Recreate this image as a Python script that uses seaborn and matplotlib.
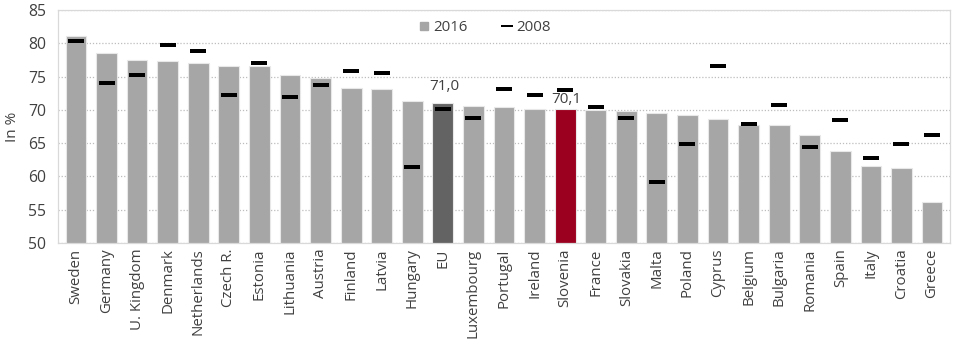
import matplotlib
matplotlib.use("Agg")
import matplotlib.pyplot as plt
import seaborn as sns
import pandas as pd
from matplotlib.lines import Line2D

countries = ["Sweden", "Germany", "U. Kingdom", "Denmark", "Netherlands", "Czech R.",
             "Estonia", "Lithuania", "Austria", "Finland", "Latvia", "Hungary", "EU",
             "Luxembourg", "Portugal", "Ireland", "Slovenia", "France", "Slovakia",
             "Malta", "Poland", "Cyprus", "Belgium", "Bulgaria", "Romania", "Spain",
             "Italy", "Croatia", "Greece"]
v2016 = [81.1, 78.6, 77.5, 77.4, 77.1, 76.6, 76.6, 75.2, 74.8, 73.3, 73.2, 71.4, 71.0,
         70.6, 70.5, 70.2, 70.1, 70.0, 69.8, 69.5, 69.2, 68.7, 67.7, 67.7, 66.2, 63.8,
         61.5, 61.2, 56.1]
v2008 = [80.4, 74.0, 75.2, 79.8, 78.9, 72.3, 77.1, 72.0, 73.8, 75.8, 75.5, 61.4, 70.2,
         68.8, 73.1, 72.2, 73.0, 70.5, 68.8, 59.1, 64.9, 76.6, 67.9, 70.7, 64.4, 68.5,
         62.8, 64.8, 66.2]
labelled = {"EU": "71,0", "Slovenia": "70,1"}
label_gap = {"EU": 1.4, "Slovenia": 0.35}

grey, eu_col, si_col = "#a6a6a6", "#636363", "#9b001f"
palette = {c: (eu_col if c == "EU" else si_col if c == "Slovenia" else grey) for c in countries}

df = pd.DataFrame({"country": countries, "y2016": v2016, "y2008": v2008})

sns.set_theme(style="white")
plt.rcParams["font.family"] = ["Open Sans", "DejaVu Sans"]
txt = "#404040"

fig = plt.figure(figsize=(9.6, 3.49), dpi=100)
ax = fig.add_axes([0.060, 0.304, 0.930, 0.667])

sns.barplot(data=df, x="country", y="y2016", hue="country", palette=palette,
            saturation=1, legend=False, width=0.68, edgecolor="#e8e8e8", linewidth=0.8,
            ax=ax, zorder=2)
dash = [(-1, -0.26), (1, -0.26), (1, 0.26), (-1, 0.26)]
sns.scatterplot(data=df, x="country", y="y2008", marker=dash, s=120, linewidth=0,
                color="black", ax=ax, zorder=3)

for i, c in enumerate(countries):
    if c in labelled:
        ax.text(i + 0.05, v2016[i] + label_gap[c], labelled[c], ha="center", va="bottom",
                fontsize=11, color=txt)

ax.set_ylim(50, 85)
ax.set_xlim(-0.6, len(countries) - 0.4)
ax.set_yticks(range(50, 86, 5))
ax.yaxis.grid(True, linestyle=(0, (1, 1.5)), color="#bdbdbd", linewidth=0.9, zorder=0)
ax.set_axisbelow(True)
ax.set_xlabel("")
ax.set_ylabel("In %", fontsize=11, color=txt, labelpad=6)
ax.tick_params(axis="x", rotation=90, labelsize=10.8, colors=txt, length=0, pad=4)
ax.tick_params(axis="y", labelsize=11.3, colors=txt, length=0, pad=8)
for s in ax.spines.values():
    s.set_color("#d9d9d9")
    s.set_linewidth(0.9)

handles = [Line2D([0], [0], marker="s", color=grey, linestyle="none", markersize=6, label="2016"),
           Line2D([0], [0], marker=dash, color="black", linestyle="none", markersize=8,
                  markeredgewidth=0, label="2008")]
ax.legend(handles=handles, loc="upper center", bbox_to_anchor=(0.478, 1.015), ncol=2,
          frameon=False, fontsize=10.8, handlelength=0.8, handleheight=0.8,
          columnspacing=2.2, handletextpad=0.2, labelcolor=txt)

fig.savefig("out.png", dpi=100)
